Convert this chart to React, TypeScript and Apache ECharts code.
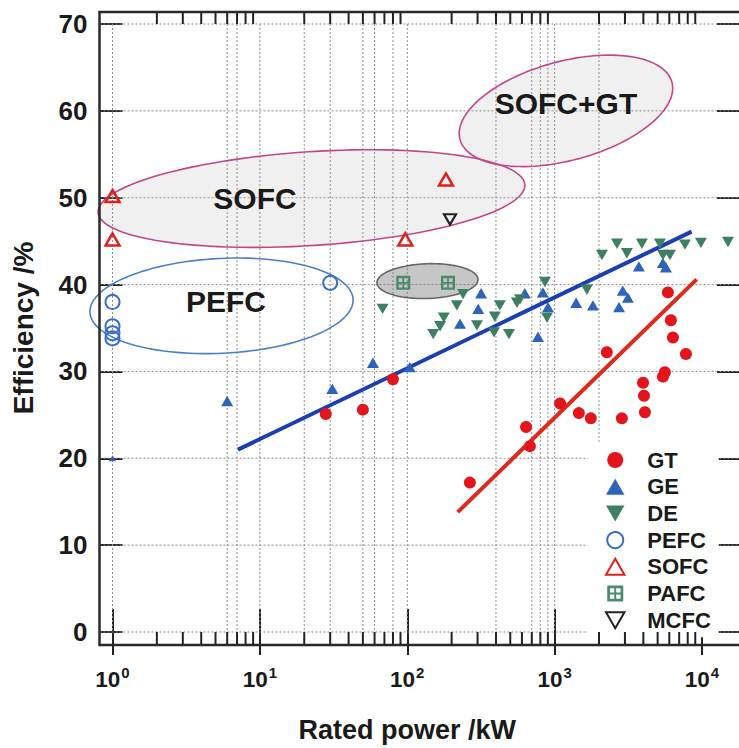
import React, { useEffect, useRef } from 'react';
import * as echarts from 'echarts';

// ---- data (x: rated power kW, y: efficiency %) ----
const gtData = [[28, 25.1], [50, 25.6], [80, 29.1], [266, 17.2], [640, 23.6], [680, 21.4], [1090, 26.3], [1460, 25.2], [1760, 24.6], [2860, 24.6], [2260, 32.2], [3980, 28.7], [4040, 27.2], [4100, 25.3], [5430, 29.4], [5600, 29.9], [5870, 39.1], [6150, 35.9], [6350, 33.9], [7780, 32.0]];
const geData = [[1, 20], [6, 26.6], [31, 28], [58.5, 31], [104, 30.5], [228, 35.5], [303, 37.2], [317, 39], [628, 39], [771, 34], [832, 39.1], [902, 37.4], [1400, 37.9], [1820, 37.6], [2735, 37.4], [2900, 39.3], [3140, 38.5], [3730, 42.1], [5430, 42.5], [5690, 42.0]];
const deData = [[68, 37.2], [150, 34.3], [167, 35.2], [177, 36.2], [217, 37.6], [239, 38.9], [297, 35.3], [388, 34.5], [393, 36.3], [425, 37.6], [490, 34.3], [555, 37.9], [582, 38.3], [859, 40.3], [887, 36.2], [1656, 39.4], [2094, 43.4], [2650, 44.7], [3093, 43.6], [3910, 44.7], [5180, 44.7], [5430, 43.4], [6060, 43.4], [7660, 44.6], [9830, 44.8], [15000, 44.9]];
const pefcData = [[1, 38], [1, 35.2], [1, 34.4], [1, 33.8], [30, 40.2]];
const sofcData = [[1, 50.2], [1, 45.2], [97, 45.2], [183, 52.1]];
const pafcData = [[94, 40.2], [189, 40.2]];
const mcfcData = [[195, 47.5]];

const geFit = [[7.1, 21.0], [8500, 46.1]];
const gtFit = [[220, 13.8], [9200, 40.6]];

const seriesNames = ['GT', 'GE', 'DE', 'PEFC', 'SOFC', 'PAFC', 'MCFC'];

// regions: left end, right end (data coords), half height (efficiency units), label point
const regionNames = ['SOFC', 'PEFC', 'SOFC+GT', ''];
const regionLeft = [[0.798, 48.3], [0.703, 36.8], [228, 56.7], [62.3, 40.2]];
const regionRight = [[628, 51.5], [42.9, 38.3], [6250, 63.3], [302, 40.6]];
const regionHalf = [5.4, 5.46, 5.7, 2.0];
const regionLabelAt = [[9.27, 49.9], [5.89, 38.0], [1194, 60.9], [140, 40.4]];

// axes
const xMin = 1;
const xMax = 10000;
const yMin = 0;
const yMax = 70;
const yStep = 10;
const gridX = [1, 6, 7, 10, 20, 30, 50, 60, 80, 100, 400, 700, 800, 900, 1000, 2000];
const gridY = [0, 10, 20, 30, 40, 50, 60, 70];
const minorX = [2, 3, 4, 5, 6, 7, 8, 9, 20, 30, 40, 50, 60, 70, 80, 90, 200, 300, 400, 500, 600, 700, 800, 900, 2000, 3000, 4000, 5000, 6000, 7000, 8000, 9000];

const FONT = "'Liberation Sans', Arial, Helvetica, sans-serif";
const INK = '#1a1a1a';
const regionStroke = ['#c4468a', '#4d7fc9', '#c4468a', '#666666'];
const regionFill = ['rgba(165,165,165,0.17)', 'rgba(255,255,255,0)', 'rgba(165,165,165,0.17)', 'rgba(120,120,120,0.42)'];

const downTri = 'path://M0,0L10,0L5,8.66Z';
const upTri = 'path://M5,0L10,8.66L0,8.66Z';
const pafcSym = 'path://M0,0H10V10H0Z M1.7,1.7V4.4H4.4V1.7Z M5.6,1.7V4.4H8.3V1.7Z M1.7,5.6V8.3H4.4V5.6Z M5.6,5.6V8.3H8.3V5.6Z';

function buildOption() {
  const dotted = { stroke: '#8e8e8e', lineWidth: 1, lineDash: [2, 2] };
  const axisCommonX = {
    type: 'log',
    logBase: 10,
    min: xMin,
    max: xMax,
    axisLine: { show: false },
    splitLine: { show: false },
    axisTick: { inside: true, length: 23, lineStyle: { color: '#222', width: 2 } },
  };
  const axisCommonY = {
    type: 'value',
    min: yMin,
    max: yMax,
    interval: yStep,
    axisLine: { show: false },
    splitLine: { show: false },
  };
  return {
    animation: false,
    backgroundColor: '#ffffff',
    grid: { left: 112.5, right: 37, top: 24, bottom: 115 },
    xAxis: [
      {
        ...axisCommonX,
        position: 'bottom',
        offset: 12,
        name: 'Rated power /kW',
        nameLocation: 'middle',
        nameGap: 72,
        nameTextStyle: { fontFamily: FONT, fontSize: 27, fontWeight: 'bold', color: INK },
        axisLabel: {
          margin: 21,
          formatter: (v: number) => `{b|10}{s|${Math.round(Math.log10(v))}}`,
          rich: {
            b: { fontFamily: FONT, fontSize: 22.5, fontWeight: 'bold', color: INK, lineHeight: 26, verticalAlign: 'bottom' },
            s: { fontFamily: FONT, fontSize: 15, fontWeight: 'bold', color: INK, lineHeight: 26, verticalAlign: 'top', padding: [0, 0, 0, 1] },
          },
        },
      },
      {
        ...axisCommonX,
        position: 'top',
        offset: 12,
        axisLabel: { show: false },
      },
    ],
    yAxis: [
      {
        ...axisCommonY,
        position: 'left',
        offset: 13,
        name: 'Efficiency /%',
        nameLocation: 'middle',
        nameGap: 62,
        nameRotate: 90,
        nameTextStyle: { fontFamily: FONT, fontSize: 28, fontWeight: 'bold', color: INK },
        axisTick: { inside: true, length: 23, lineStyle: { color: '#222', width: 2 } },
        axisLabel: { margin: 12, fontFamily: FONT, fontSize: 26, fontWeight: 'bold', color: INK },
      },
      {
        ...axisCommonY,
        position: 'right',
        offset: 37,
        axisTick: { inside: true, length: 22, lineStyle: { color: '#222', width: 2 } },
        axisLabel: { show: false },
      },
    ],
    legend: {
      data: seriesNames,
      orient: 'vertical',
      left: 588,
      top: 443,
      padding: [6, 8, 6, 17],
      backgroundColor: '#ffffff',
      itemWidth: 54,
      itemHeight: 16,
      itemGap: 4.7,
      symbolKeepAspect: true,
      textStyle: { fontFamily: FONT, fontSize: 22, fontWeight: 'bold', color: INK, lineHeight: 22 },
    },
    graphic: [
      {
        type: 'polyline',
        z: 100,
        silent: true,
        shape: { points: [[741, 12], [99.5, 12], [99.5, 645], [741, 645]] },
        style: { stroke: '#2c2828', lineWidth: 2.5, fill: 'none' },
      },
    ],
    series: [
      {
        type: 'custom',
        name: 'vgrid',
        z: 1,
        silent: true,
        clip: false,
        encode: { x: 0, y: 1 },
        data: gridX.map((v) => [v, yMin]),
        renderItem: (params: any, api: any) => {
          const v = api.value(0);
          const a = api.coord([v, yMax]);
          const b = api.coord([v, yMin]);
          return { type: 'line', shape: { x1: a[0], y1: a[1], x2: b[0], y2: b[1] }, style: dotted };
        },
      },
      {
        type: 'custom',
        name: 'hgrid',
        z: 1,
        silent: true,
        clip: false,
        encode: { x: 0, y: 1 },
        data: gridY.map((v) => [xMin, v]),
        renderItem: (params: any, api: any) => {
          const p = api.coord([xMin, api.value(1)]);
          const cs = params.coordSys;
          return { type: 'line', shape: { x1: cs.x - 13, y1: p[1], x2: cs.x + cs.width + 37, y2: p[1] }, style: dotted };
        },
      },
      {
        type: 'custom',
        name: 'minorTicks',
        z: 5,
        silent: true,
        clip: false,
        encode: { x: 0, y: 1 },
        data: minorX.map((v) => [v, yMin]),
        renderItem: (params: any, api: any) => {
          const x = api.coord([api.value(0), yMin])[0];
          const cs = params.coordSys;
          const bot = cs.y + cs.height + 12;
          const top = cs.y - 12;
          const st = { stroke: '#222', lineWidth: 2 };
          return {
            type: 'group',
            children: [
              { type: 'line', shape: { x1: x, y1: bot, x2: x, y2: bot - 12 }, style: st },
              { type: 'line', shape: { x1: x, y1: top, x2: x, y2: top + 12 }, style: st },
            ],
          };
        },
      },
      {
        type: 'custom',
        name: 'regions',
        z: 2,
        silent: true,
        clip: false,
        encode: { x: 0, y: 1 },
        data: regionLabelAt,
        renderItem: (params: any, api: any) => {
          const i = params.dataIndex;
          const p1 = api.coord(regionLeft[i]);
          const p2 = api.coord(regionRight[i]);
          const cx = (p1[0] + p2[0]) / 2;
          const cy = (p1[1] + p2[1]) / 2;
          const a = Math.hypot(p2[0] - p1[0], p2[1] - p1[1]) / 2;
          const ang = Math.atan2(p2[1] - p1[1], p2[0] - p1[0]);
          const b = Math.abs(api.coord([regionLeft[i][0], regionLeft[i][1] + regionHalf[i]])[1] - p1[1]);
          const pts: number[][] = [];
          for (let k = 0; k < 120; k++) {
            const t = (k / 120) * Math.PI * 2;
            const ex = a * Math.cos(t);
            const ey = b * Math.sin(t);
            pts.push([cx + ex * Math.cos(ang) - ey * Math.sin(ang), cy + ex * Math.sin(ang) + ey * Math.cos(ang)]);
          }
          const lp = api.coord([api.value(0), api.value(1)]);
          const children: any[] = [
            { type: 'polygon', shape: { points: pts }, style: { fill: regionFill[i], stroke: regionStroke[i], lineWidth: 1.6 } },
          ];
          if (regionNames[i]) {
            children.push({
              type: 'text',
              z2: 50,
              style: { text: regionNames[i], x: lp[0], y: lp[1], align: 'center', verticalAlign: 'middle', fontFamily: FONT, fontSize: 30, fontWeight: 'bold', fill: INK },
            });
          }
          return { type: 'group', children };
        },
      },
      {
        type: 'line',
        name: 'geFit',
        z: 3,
        data: geFit,
        symbol: 'none',
        silent: true,
        lineStyle: { color: '#1c3fae', width: 4 },
      },
      {
        type: 'line',
        name: 'gtFit',
        z: 3,
        data: gtFit,
        symbol: 'none',
        silent: true,
        lineStyle: { color: '#dc2a1e', width: 4 },
      },
      {
        type: 'scatter', name: 'GT', z: 4, clip: false, data: gtData, symbol: 'circle', symbolSize: 12,
        itemStyle: { color: '#e3141b', opacity: 1 },
      },
      {
        type: 'scatter', name: 'GE', z: 4, clip: false, data: geData, symbol: upTri, symbolKeepAspect: true,
        symbolSize: (v: any, p: any) => (p.dataIndex === 0 ? 7 : 12),
        itemStyle: { color: '#2d63b8', opacity: 1 },
      },
      {
        type: 'scatter', name: 'DE', z: 4, clip: false, data: deData, symbol: downTri, symbolKeepAspect: true, symbolSize: 12,
        itemStyle: { color: '#3e7f62', opacity: 1 },
      },
      {
        type: 'scatter', name: 'PEFC', z: 4, clip: false, data: pefcData, symbol: 'circle', symbolSize: 14,
        itemStyle: { color: 'rgba(255,255,255,0)', borderColor: '#3a6fc4', borderWidth: 2, opacity: 1 },
      },
      {
        type: 'scatter', name: 'SOFC', z: 4, clip: false, data: sofcData, symbol: upTri, symbolKeepAspect: true, symbolSize: 14,
        itemStyle: { color: 'rgba(255,255,255,0)', borderColor: '#e0201c', borderWidth: 2.5, opacity: 1 },
      },
      {
        type: 'scatter', name: 'PAFC', z: 4, clip: false, data: pafcData, symbol: pafcSym, symbolKeepAspect: true, symbolSize: 14,
        itemStyle: { color: '#4b8a6c', opacity: 1 },
      },
      {
        type: 'scatter', name: 'MCFC', z: 4, clip: false, data: mcfcData, symbol: downTri, symbolKeepAspect: true, symbolSize: 12,
        itemStyle: { color: 'rgba(255,255,255,0)', borderColor: '#222', borderWidth: 2.2, opacity: 1 },
      },
    ],
  };
}

export default function App() {
  const ref = useRef<HTMLDivElement>(null);
  useEffect(() => {
    if (!ref.current) return;
    const chart = echarts.init(ref.current, null, { renderer: 'svg' });
    chart.setOption(buildOption() as any);
    return () => chart.dispose();
  }, []);
  return <div ref={ref} style={{ position: 'absolute', left: 0, top: 0, width: 739, height: 748 }} />;
}
